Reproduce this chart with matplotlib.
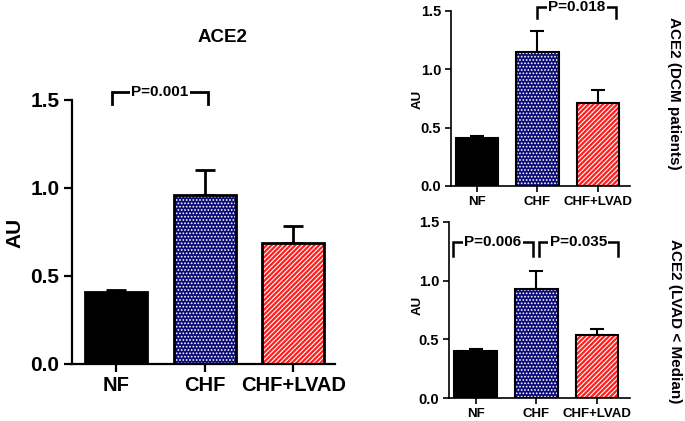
import matplotlib
matplotlib.use("Agg")
import matplotlib.pyplot as plt

plt.rcParams['font.family'] = ['Liberation Sans', 'DejaVu Sans']
plt.rcParams['font.weight'] = 'bold'
plt.rcParams['hatch.linewidth'] = 0.8

groups = ["NF", "CHF", "CHF+LVAD"]
yticks = [0.0, 0.5, 1.0, 1.5]
ytick_labels = ["0.0", "0.5", "1.0", "1.5"]

# main panel: ACE2
ace2_mean = [0.41, 0.96, 0.69]
ace2_sem = [0.01, 0.14, 0.095]
# top right: DCM patients
dcm_mean = [0.41, 1.15, 0.71]
dcm_sem = [0.02, 0.18, 0.11]
# bottom right: LVAD < median
lvad_mean = [0.40, 0.93, 0.54]
lvad_sem = [0.02, 0.15, 0.05]

colors = ["black", "#0c0c78", "#ff1e1e"]
hatches = [None, ".....", "///////"]


def draw_panel(ax, means, sems, lw, xtick_fs, ytick_fs, capsize, ticklen):
    x = range(len(groups))
    # fill + white hatch first, black outline on top
    for i in x:
        ax.bar(i, means[i], width=0.7, color=colors[i], edgecolor="white",
               linewidth=0, hatch=hatches[i], zorder=2)
    ax.bar(x, means, width=0.7, facecolor="none", edgecolor="black",
           linewidth=lw, zorder=3)
    ax.errorbar(x, means, yerr=[[0] * 3, sems], fmt="none", ecolor="black",
                elinewidth=lw, capsize=capsize, capthick=lw, zorder=1)
    ax.set_ylim(0, 1.5)
    ax.set_yticks(yticks)
    ax.set_yticklabels(ytick_labels, fontsize=ytick_fs, fontweight="bold")
    ax.set_xticks(list(x))
    ax.set_xticklabels(groups, fontsize=xtick_fs, fontweight="bold")
    for s in ["top", "right"]:
        ax.spines[s].set_visible(False)
    for s in ["left", "bottom"]:
        ax.spines[s].set_linewidth(lw * 0.8)
    ax.tick_params(width=lw * 0.8, length=ticklen, pad=3)


def bracket(ax, x0, x1, y, leg, label, fs, lw):
    ax.plot([x0, x0, x1, x1], [y - leg, y, y, y - leg], color="black",
            linewidth=lw, clip_on=False, solid_joinstyle="miter")
    ax.text((x0 + x1) / 2, y, label, ha="center", va="center", fontsize=fs,
            fontweight="bold", clip_on=False,
            bbox=dict(facecolor="white", edgecolor="none", pad=1.0))


fig = plt.figure(figsize=(6.85, 4.21), dpi=100)

ax_main = fig.add_axes([0.1051, 0.1354, 0.3839, 0.6271])
draw_panel(ax_main, ace2_mean, ace2_sem, 2.0, 14.5, 15, 7, 6)
ax_main.set_xlim(-0.5, 2.47)
bracket(ax_main, -0.05, 1.04, 1.547, 0.07, "P=0.001", 11, 2.0)

ax_top = fig.add_axes([0.6584, 0.5582, 0.2613, 0.4157])
draw_panel(ax_top, dcm_mean, dcm_sem, 1.5, 9.5, 10.5, 5, 4)
ax_top.set_xlim(-0.44, 2.54)
bracket(ax_top, 1.0, 2.3, 1.534, 0.09, "P=0.018", 11, 1.8)

ax_bot = fig.add_axes([0.6555, 0.0539, 0.2642, 0.4195])
draw_panel(ax_bot, lvad_mean, lvad_sem, 1.5, 9.5, 10.5, 5, 4)
ax_bot.set_xlim(-0.44, 2.54)
bracket(ax_bot, -0.375, 0.94, 1.33, 0.12, "P=0.006", 11, 1.8)
bracket(ax_bot, 1.04, 2.34, 1.33, 0.12, "P=0.035", 11, 1.8)

fig.text(222 / 685, 1 - 38 / 421, "ACE2", ha="center", va="center",
         fontsize=13.5, fontweight="bold")
fig.text(15 / 685, 1 - 233 / 421, "AU", ha="center", va="center",
         rotation=90, fontsize=15, fontweight="bold")
fig.text(418 / 685, 1 - 99 / 421, "AU", ha="center", va="center",
         rotation=90, fontsize=9.5, fontweight="bold")
fig.text(418 / 685, 1 - 305 / 421, "AU", ha="center", va="center",
         rotation=90, fontsize=9.5, fontweight="bold")
fig.text(674 / 685, 1 - 93 / 421, "ACE2 (DCM patients)", ha="center",
         va="center", rotation=-90, fontsize=11, fontweight="bold")
fig.text(675 / 685, 1 - 321 / 421, "ACE2 (LVAD < Median)", ha="center",
         va="center", rotation=-90, fontsize=11, fontweight="bold")

fig.savefig("out.png", dpi=100)
